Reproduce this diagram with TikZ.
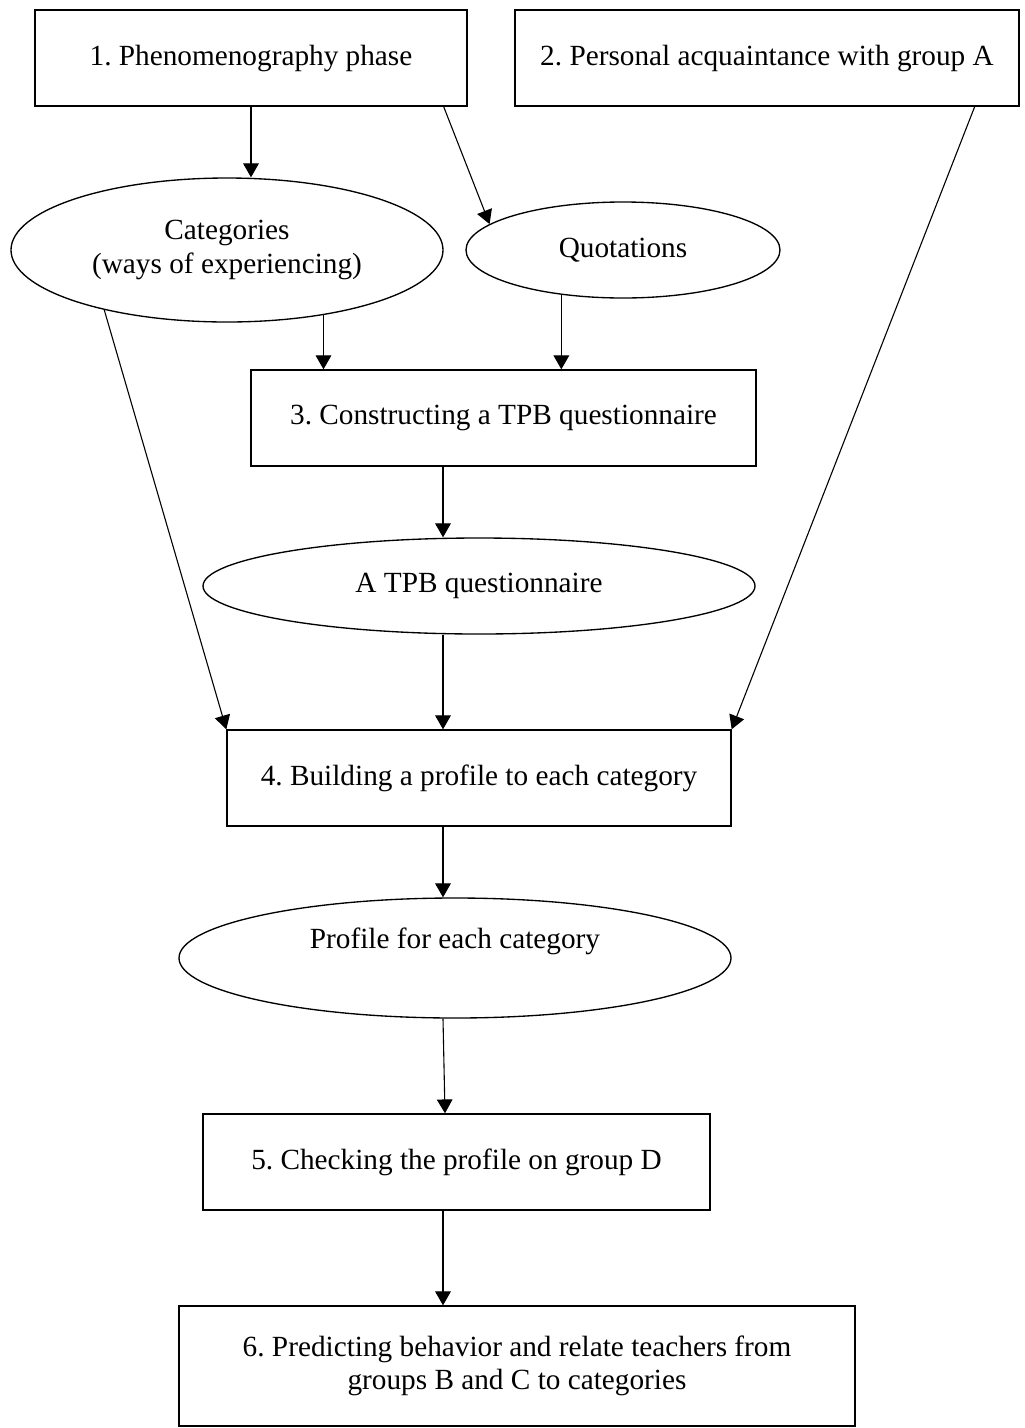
\documentclass[tikz,border=0pt]{standalone}
\usepackage{fontspec}
\setmainfont{Liberation Serif}
\usetikzlibrary{arrows.meta,shapes.geometric}
\newdimen\px
\px=0.41pt
\frenchspacing

\begin{document}
\begin{tikzpicture}
    [x=0.41pt, y=-0.41pt,
    every node/.style={font=\fontsize{12}{13.6}\selectfont, inner sep=0pt},
    stage/.style={draw, line width=0.55pt, minimum height=96\px},
    result/.style={draw, ellipse, line width=0.55pt},
    flow/.style={-{Triangle[length=5.7pt,width=6.4pt]}, line width=0.45pt}]
    \useasboundingbox (0,0) rectangle (1024,1428);
    % steps and their results
    \node[stage, minimum width=432\px] (phen) at (251,58) {1. Phenomenography phase};
    \node[stage, minimum width=504\px] (pers) at (767,58) {2. Personal acquaintance with group A};
    \node[result, minimum width=432\px, minimum height=144\px, align=center] (cats) at (227,250)
      {Categories\\(ways of experiencing)};
    \node[result, minimum width=314\px, minimum height=96\px] (quot) at (623,250) {Quotations};
    \node[stage, minimum width=505\px] (cons) at (503.5,418) {3. Constructing a TPB questionnaire};
    \node[result, minimum width=552\px, minimum height=96\px] (tpb) at (479,586) {A TPB questionnaire};
    \node[stage, minimum width=504\px] (build) at (479,778) {4. Building a profile to each category};
    \node[result, minimum width=552\px, minimum height=120\px, text depth=16.4pt] (prof) at (455,958)
      {Profile for each category};
    \node[stage, minimum width=507\px] (check) at (456.5,1162) {5. Checking the profile on group D};
    \node[stage, minimum width=676\px, minimum height=120\px, align=center] (pred) at (517,1366)
      {6. Predicting behavior and relate teachers from\\groups B and C to categories};
    % connectors
    \coordinate (spine) at (443,0);
    \draw[flow] (phen.south) -- (phen.south |- cats.north);
    \draw[flow] ([xshift=-24\px]phen.south east) -- (quot.169);
    \draw[flow] ([xshift=-45\px]pers.south east) -- (build.north east);
    \draw[flow] (cats.206) -- (build.north west);
    \draw[flow] (cats.-34) -- (cats.-34 |- cons.north);
    \draw[flow] (quot.216) -- (quot.216 |- cons.north);
    \draw[flow] (cons.south -| spine) -- (tpb.north -| spine);
    \draw[flow] (tpb.south -| spine) -- (build.north -| spine);
    \draw[flow] (build.south -| spine) -- (prof.north -| spine);
    \draw[flow] (prof.south -| spine) -- ([xshift=2\px]check.north -| spine);
    \draw[flow] (check.south -| spine) -- (pred.north -| spine);
\end{tikzpicture}
\end{document}
